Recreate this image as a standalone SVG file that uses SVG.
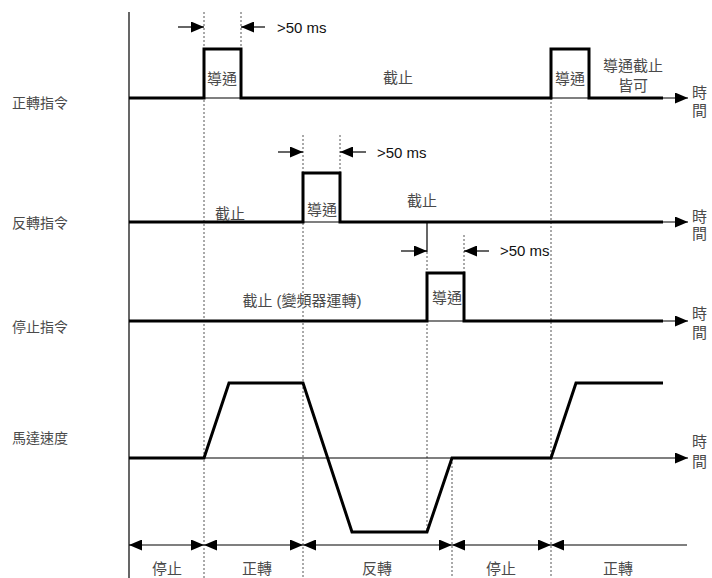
<svg xmlns="http://www.w3.org/2000/svg" width="712" height="578" viewBox="0 0 712 578">
<style>
.lbl{font-family:"Liberation Sans","Noto Sans CJK TC",sans-serif;font-size:15px;fill:#4a4a4a;dominant-baseline:central}
.side{font-size:14px}
.ms{font-family:"Liberation Sans","Noto Sans CJK TC",sans-serif;font-size:15px;fill:#111;dominant-baseline:central}
.thick{fill:none;stroke:#000;stroke-width:3;stroke-linejoin:miter}
.thin{fill:none;stroke:#000;stroke-width:1.2}
.dash{fill:none;stroke:#555;stroke-width:1;stroke-dasharray:2,2}
.mid{text-anchor:middle}
</style>
<defs>
<marker id="ah" markerUnits="userSpaceOnUse" markerWidth="14" markerHeight="11" refX="13" refY="5.5" orient="auto-start-reverse">
<path d="M0,0 L13,5.5 L0,11 z" fill="#000"/>
</marker>
</defs>
<rect width="712" height="578" fill="#fff"/>

<g id="guides">
<line class="dash" x1="204" y1="12" x2="204" y2="578"/>
<line class="dash" x1="241" y1="12" x2="241" y2="49"/>
<line class="dash" x1="303" y1="135" x2="303" y2="578"/>
<line class="dash" x1="340" y1="135" x2="340" y2="173"/>
<line class="thin" x1="427" y1="222" x2="427" y2="252" stroke-width="1"/>
<line class="dash" x1="427" y1="252" x2="427" y2="532"/>
<line class="dash" x1="464" y1="235" x2="464" y2="273"/>
<line class="dash" x1="452" y1="458" x2="452" y2="578"/>
<line class="dash" x1="551" y1="98" x2="551" y2="578"/>
</g>

<g id="axis">
<line class="thin" x1="129" y1="12" x2="129" y2="578"/>
</g>

<g id="labels-left">
<text class="lbl side" x="12" y="103">正轉指令</text>
<text class="lbl side" x="12" y="223">反轉指令</text>
<text class="lbl side" x="12" y="327">停止指令</text>
<text class="lbl side" x="12" y="438">馬達速度</text>
</g>

<g id="sig-forward">
<line class="thin" x1="129" y1="98" x2="688" y2="98" marker-end="url(#ah)"/>
<polyline class="thick" points="129,98 204,98 204,49 241,49 241,98 551,98 551,49 589,49 589,98 663,98"/>
<text class="lbl mid" x="222" y="78">導通</text>
<text class="lbl mid" x="398" y="77">截止</text>
<text class="lbl mid" x="570" y="78">導通</text>
<text class="lbl mid" x="633" y="65">導通截止</text>
<text class="lbl mid" x="633" y="85">皆可</text>
<text class="lbl" x="692" y="92">時</text>
<text class="lbl" x="692" y="110">間</text>
<line class="thin" x1="178" y1="27" x2="204" y2="27" marker-end="url(#ah)"/>
<line class="thin" x1="265" y1="27" x2="241" y2="27" marker-end="url(#ah)"/>
<text class="ms" x="277" y="27">&gt;50 ms</text>
</g>

<g id="sig-reverse">
<line class="thin" x1="129" y1="222" x2="688" y2="222" marker-end="url(#ah)"/>
<polyline class="thick" points="129,222 303,222 303,173 340,173 340,222 663,222"/>
<text class="lbl mid" x="230" y="213">截止</text>
<text class="lbl mid" x="322" y="209">導通</text>
<text class="lbl mid" x="422" y="200">截止</text>
<text class="lbl" x="692" y="216">時</text>
<text class="lbl" x="692" y="233">間</text>
<line class="thin" x1="278" y1="152" x2="303" y2="152" marker-end="url(#ah)"/>
<line class="thin" x1="366" y1="152" x2="340" y2="152" marker-end="url(#ah)"/>
<text class="ms" x="377" y="152">&gt;50 ms</text>
</g>

<g id="sig-stop">
<line class="thin" x1="129" y1="321" x2="688" y2="321" marker-end="url(#ah)"/>
<polyline class="thick" points="129,321 427,321 427,273 464,273 464,321 663,321"/>
<text class="lbl mid" x="302" y="300">截止 (變頻器運轉)</text>
<text class="lbl mid" x="447" y="297">導通</text>
<text class="lbl" x="692" y="313">時</text>
<text class="lbl" x="692" y="332">間</text>
<line class="thin" x1="401" y1="251" x2="427" y2="251" marker-end="url(#ah)"/>
<line class="thin" x1="489" y1="251" x2="464" y2="251" marker-end="url(#ah)"/>
<text class="ms" x="500" y="250">&gt;50 ms</text>
</g>

<g id="sig-speed">
<line class="thin" x1="129" y1="458" x2="688" y2="458" marker-end="url(#ah)"/>
<polyline class="thick" points="129,458 204,458 229,383 303,383 352,532 427,532 452,458 551,458 576,383 663,383"/>
<text class="lbl" x="692" y="441">時</text>
<text class="lbl" x="692" y="461">間</text>
</g>

<g id="phases">
<line class="thin" x1="129" y1="545" x2="204" y2="545" marker-start="url(#ah)" marker-end="url(#ah)"/>
<line class="thin" x1="204" y1="545" x2="303" y2="545" marker-start="url(#ah)" marker-end="url(#ah)"/>
<line class="thin" x1="303" y1="545" x2="452" y2="545" marker-start="url(#ah)" marker-end="url(#ah)"/>
<line class="thin" x1="452" y1="545" x2="551" y2="545" marker-start="url(#ah)" marker-end="url(#ah)"/>
<line class="thin" x1="551" y1="545" x2="687" y2="545" marker-start="url(#ah)"/>
<text class="lbl mid" x="167" y="568">停止</text>
<text class="lbl mid" x="257" y="568">正轉</text>
<text class="lbl mid" x="377" y="568">反轉</text>
<text class="lbl mid" x="501" y="568">停止</text>
<text class="lbl mid" x="618" y="568">正轉</text>
</g>
</svg>
